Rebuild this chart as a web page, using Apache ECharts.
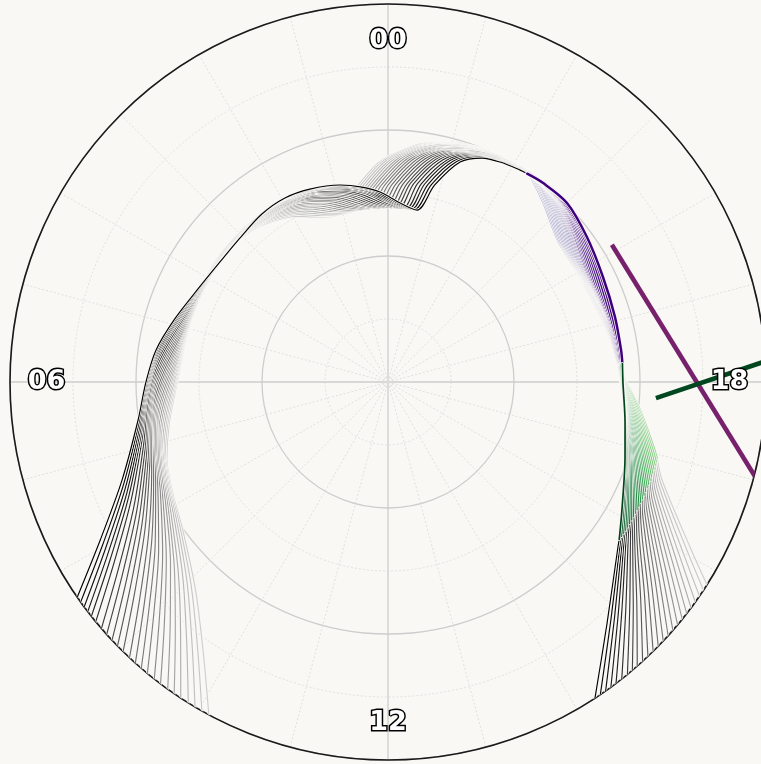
<!DOCTYPE html>
<html>
<head>
<meta charset="utf-8">
<script src="https://cdn.jsdelivr.net/npm/echarts@6/dist/echarts.min.js"></script>
<style>
  html, body { margin: 0; padding: 0; background: #f9f8f5; }
  #chart { width: 761px; height: 764px; }
</style>
</head>
<body>
<div id="chart"></div>
<script>
// Auroral boundaries as magnetic local time (h) and colatitude (deg).
// MLT keeps decreasing past midnight (negative hours = dusk side).

// Dawn branch of the latest boundary: dawn edge of the map up to the midnight step.
const dawnMLT = [8.33, 7.92, 7.35, 6.58, 6.0, 5.48, 4.92, 4.26, 3.63, 3.05, 2.46, 1.95, 1.47, 0.91, 0.51, 0.16, -0.26, -0.64];
const dawnColat = [30.2, 26.07, 22.5, 20.07, 19.21, 18.59, 17.68, 16.79, 16.39, 16.39, 16.67, 16.74, 16.52, 16.09, 15.61, 15.09, 14.24, 13.84];

// Dusk branch, from the midnight step to the dusk edge: latest and earliest boundary.
const duskLateMLT = [-0.89, -1.21, -1.52, -1.80, -2.13, -2.53, -3.0, -3.59, -4.26, -4.93, -5.48, -6.02, -6.65, -7.17, -7.87, -8.38, -9.18, -9.81];
const duskLateColat = [16.07, 18.37, 19.28, 19.59, 19.82, 20.02, 20.09, 19.54, 18.99, 18.74, 18.67, 18.65, 19.09, 19.73, 21.06, 22.47, 25.84, 30.2];
const duskEarlyMLT = [0.70, 0.17, -0.28, -0.66, -1.04, -1.43, -1.84, -2.30, -2.75, -3.36, -4.17, -5.02, -5.84, -6.42, -6.89, -7.31, -7.91, -8.18];
const duskEarlyColat = [15.33, 17.40, 18.54, 19.26, 19.70, 19.95, 20.06, 19.92, 18.80, 17.55, 17.40, 17.72, 18.51, 20.12, 21.62, 23.09, 27.31, 30.2];

// Per boundary, earliest first: MLT rotation of the dawn branch relative to the latest one.
const dawnShift = [1.80, 1.72, 1.64, 1.56, 1.47, 1.39, 1.31, 1.22, 1.14, 1.05, 0.97, 0.89, 0.81, 0.72, 0.64, 0.56, 0.48, 0.40, 0.31, 0.24, 0.18, 0.12, 0.06, 0.0];
// Where each dusk branch lies between the latest (0) and earliest (1) trace:
// over the midnight bulge and dusk leg, and across the pre-dusk stretch.
const duskPlaceOuter = [1.0, 0.96, 0.915, 0.87, 0.825, 0.78, 0.735, 0.69, 0.645, 0.60, 0.555, 0.51, 0.465, 0.42, 0.375, 0.33, 0.29, 0.25, 0.205, 0.16, 0.12, 0.08, 0.04, 0.0];
const duskPlaceEvening = [1.0, 0.97, 0.94, 0.91, 0.88, 0.85, 0.82, 0.79, 0.76, 0.73, 0.70, 0.67, 0.64, 0.61, 0.58, 0.55, 0.51, 0.47, 0.42, 0.36, 0.29, 0.21, 0.11, 0.0];
// Share of the pre-dusk placement at each dusk-branch point
const eveningShare = [0, 0, 0, 0, 0.3, 0.7, 1, 1, 1, 1, 0.6, 0.2, 0, 0, 0, 0, 0, 0];

// Coloured dusk stretches: purple between two MLTs, green from 18.3 MLT out to a colatitude
const purpleFromMLT = 21.75;
const purpleToMLT = 18.3;
const greenToColat = 22.2;

// Track segments as [colatitude, MLT]
const trackPurple = [[20.84, 20.10], [34.05, 16.63]];
const trackGreen = [[21.3, 17.77], [32.8, 18.30]];

// Hour labels
const hourTicks = [0, 6, 12, 18];
const hourText = ['00', '06', '12', '18'];
const hourLabelColat = 27.1;

const BG = '#f9f8f5';
const GREYS = ['#ffffff', '#f0f0f0', '#d9d9d9', '#bdbdbd', '#969696', '#737373', '#525252', '#252525', '#000000'];
const PURPLES = ['#fcfbfd', '#efedf5', '#dadaeb', '#bcbddc', '#9e9ac8', '#807dba', '#6a51a3', '#54278f', '#3f007d'];
const GREENS = ['#f7fcf5', '#e5f5e0', '#c7e9c0', '#a1d99b', '#74c476', '#41ab5d', '#238b45', '#006d2c', '#00441b'];

function hex2rgb(h) { return [1, 3, 5].map(i => parseInt(h.substr(i, 2), 16)); }
function cmap(stops, t) {
  const x = Math.max(0, Math.min(1, t)) * (stops.length - 1);
  const i = Math.min(stops.length - 2, Math.floor(x));
  const f = x - i;
  const a = hex2rgb(stops[i]), b = hex2rgb(stops[i + 1]);
  return 'rgb(' + a.map((v, k) => Math.round(v + f * (b[k] - v))).join(',') + ')';
}
const wrap = u => ((u % 24) + 24) % 24;

// Cut a point list [u, colat] where field k first crosses thr
function splitAt(pts, k, thr) {
  for (let j = 1; j < pts.length; j++) {
    const a = pts[j - 1][k], b = pts[j][k];
    if ((a - thr) * (b - thr) <= 0 && a !== b) {
      const f = (thr - a) / (b - a);
      const cut = [pts[j - 1][0] + f * (pts[j][0] - pts[j - 1][0]), pts[j - 1][1] + f * (pts[j][1] - pts[j - 1][1])];
      return [pts.slice(0, j).concat([cut]), [cut].concat(pts.slice(j))];
    }
  }
  return [pts, []];
}
const toPolar = pts => pts.map(p => [p[1], wrap(p[0])]);

function line(data, color, width) {
  return {
    type: 'line', coordinateSystem: 'polar', data: data, symbol: 'none', showSymbol: false,
    smooth: 0.3, silent: true, z: 3, animation: false,
    lineStyle: { color: color, width: width, cap: 'round', join: 'round' }
  };
}

const series = [];
const n = dawnShift.length;
for (let i = 0; i < n; i++) {
  const f = i / (n - 1);
  const pts = [];
  dawnMLT.forEach((u, k) => pts.push([u + dawnShift[i], dawnColat[k]]));
  duskLateMLT.forEach((u, k) => {
    const s = eveningShare[k];
    const w = (1 - s) * duskPlaceOuter[i] + s * duskPlaceEvening[i];
    pts.push([u + w * (duskEarlyMLT[k] - u), duskLateColat[k] + w * (duskEarlyColat[k] - duskLateColat[k])]);
  });
  const [grayA, r1] = splitAt(pts, 0, purpleFromMLT - 24);
  const [purple, r2] = splitAt(r1, 0, purpleToMLT - 24);
  const [green, grayB] = splitAt(r2, 1, greenToColat);
  const parts = [
    [grayA, cmap(GREYS, 0.3 + 0.7 * f), 1.15, 2.8],
    [grayB, cmap(GREYS, 0.3 + 0.7 * f), 1.15, 2.8],
    [purple, cmap(PURPLES, 0.42 + 0.58 * f), 2.5, 4.2],
    [green, cmap(GREENS, 0.38 + 0.62 * f), 1.7, 3.3]
  ];
  parts.forEach(([d, col, lw, hw]) => {
    if (d.length < 2) return;
    const pd = toPolar(d);
    series.push(line(pd, BG, hw));
    series.push(line(pd, col, lw));
  });
}

const track = (d, color) => ({
  type: 'line', coordinateSystem: 'polar', data: d, symbol: 'none', showSymbol: false,
  smooth: false, clip: false, silent: true, z: 5, animation: false,
  lineStyle: { color: color, width: 4.6, cap: 'butt' }
});
series.push(track(trackPurple, '#77206c'));
series.push(track(trackGreen, '#00461e'));

series.push({
  type: 'scatter', coordinateSystem: 'polar', symbolSize: 0, z: 10, silent: true, animation: false,
  itemStyle: { opacity: 1 },
  data: hourTicks.map((h, k) => ({ value: [hourLabelColat, h], name: hourText[k] })),
  label: {
    show: true, position: 'inside', formatter: p => p.name, opacity: 1,
    fontFamily: 'DejaVu Sans', fontWeight: 'bold', fontSize: 27,
    color: '#ffffff', textBorderColor: '#000000', textBorderWidth: 3
  }
});

const chart = echarts.init(document.getElementById('chart'), null, { renderer: 'canvas' });
chart.setOption({
  backgroundColor: BG,
  animation: false,
  polar: { center: [388, 382], radius: 378 },
  angleAxis: {
    type: 'value', min: 0, max: 24, interval: 6, startAngle: 90, clockwise: false,
    axisLine: { show: true, lineStyle: { color: '#1a1a1a', width: 1.6 } },
    axisTick: { show: false }, axisLabel: { show: false },
    splitLine: { show: true, lineStyle: { color: '#cdcdcd', width: 1.3 } },
    minorTick: { show: false, splitNumber: 6 },
    minorSplitLine: { show: true, lineStyle: { color: '#dcdcdc', width: 0.9, type: [2, 2] } }
  },
  radiusAxis: {
    type: 'value', min: 0, max: 30, interval: 10,
    axisLine: { show: false }, axisTick: { show: false }, axisLabel: { show: false },
    splitLine: { show: true, lineStyle: { color: '#cdcdcd', width: 1.3 } },
    minorTick: { show: false, splitNumber: 2 },
    minorSplitLine: { show: true, lineStyle: { color: '#dcdcdc', width: 0.9, type: [2, 2] } }
  },
  series: series
});
</script>
</body>
</html>
